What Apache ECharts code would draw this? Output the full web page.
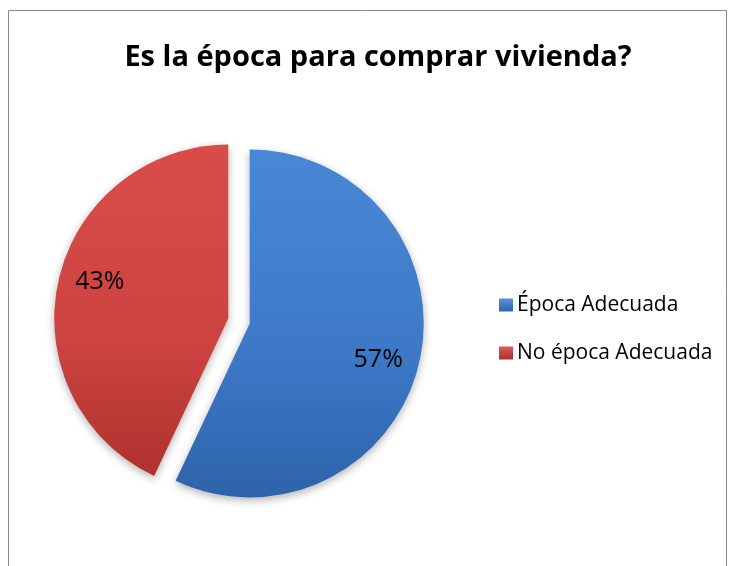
<!DOCTYPE html>
<html><head><meta charset="utf-8">
<script src="https://cdn.jsdelivr.net/npm/echarts@6/dist/echarts.min.js"></script>
<style>html,body{margin:0;padding:0;background:#fff}#c{width:729px;height:566px}</style>
</head><body><div id="c"></div>
<script>
const categories = ['Época Adecuada', 'No época Adecuada'];
const values = [57, 43];
const titleText = 'Es la época para comprar vivienda?';

const colors = [
  new echarts.graphic.LinearGradient(0,0,0,1,[{offset:0,color:'#4A88D5'},{offset:0.6,color:'#3C78C6'},{offset:1,color:'#2D63AA'}]),
  new echarts.graphic.LinearGradient(0,0,0,1,[{offset:0,color:'#DA4C49'},{offset:0.6,color:'#CC4340'},{offset:1,color:'#AF322E'}])
];
const legendColors = [
  new echarts.graphic.LinearGradient(0,0,0,1,[{offset:0,color:'#5A92D8'},{offset:1,color:'#2E64AC'}]),
  new echarts.graphic.LinearGradient(0,0,0,1,[{offset:0,color:'#DE5A57'},{offset:1,color:'#A8302C'}])
];

const chart = echarts.init(document.getElementById('c'), null, {renderer:'canvas'});
const center = [239, 321];
const R = 174;
const data = categories.map((n,i)=>({name:n, value:values[i], selected:true, itemStyle:{color:colors[i]}}));
chart.setOption({
  animation:false,
  backgroundColor:'#fff',
  title:{text:titleText, left:373, textAlign:'center', top:38,
    textStyle:{fontFamily:'Open Sans', fontWeight:'bold', fontSize:29, color:'#000'}},
  legend:{orient:'vertical', left:494, top:288, icon:'rect', itemWidth:14, itemHeight:13, itemGap:24,
    data:categories.map((n,i)=>({name:n, itemStyle:{color:legendColors[i]}})),
    textStyle:{fontFamily:'Open Sans', fontSize:21, color:'#000', lineHeight:24, padding:[0,0,0,-1]}},
  graphic:[{type:'rect', shape:{x:8.5,y:10.5,width:718,height:600}, style:{fill:'none', stroke:'#8a8a8a', lineWidth:1}, z:-1}],
  series:[
    {type:'pie', center:center, radius:[0,R], startAngle:90, clockwise:true,
     selectedMode:'multiple', selectedOffset:11, silent:true,
     label:{show:false}, labelLine:{show:false},
     itemStyle:{shadowBlur:8, shadowColor:'rgba(0,0,0,0.3)', shadowOffsetY:3, borderWidth:0},
     emphasis:{disabled:true},
     data:data},
    {type:'pie', center:center, radius:[R*0.5,R], startAngle:87, clockwise:true,
     selectedMode:'multiple', selectedOffset:11, silent:true,
     itemStyle:{color:'rgba(0,0,0,0)'}, labelLine:{show:false},
     label:{show:true, position:'inside', formatter:'{c}%', fontFamily:'Open Sans', fontSize:25, color:'#000'},
     emphasis:{disabled:true},
     data:categories.map((n,i)=>({name:n, value:values[i], selected:true}))}
  ]
});
</script></body></html>
